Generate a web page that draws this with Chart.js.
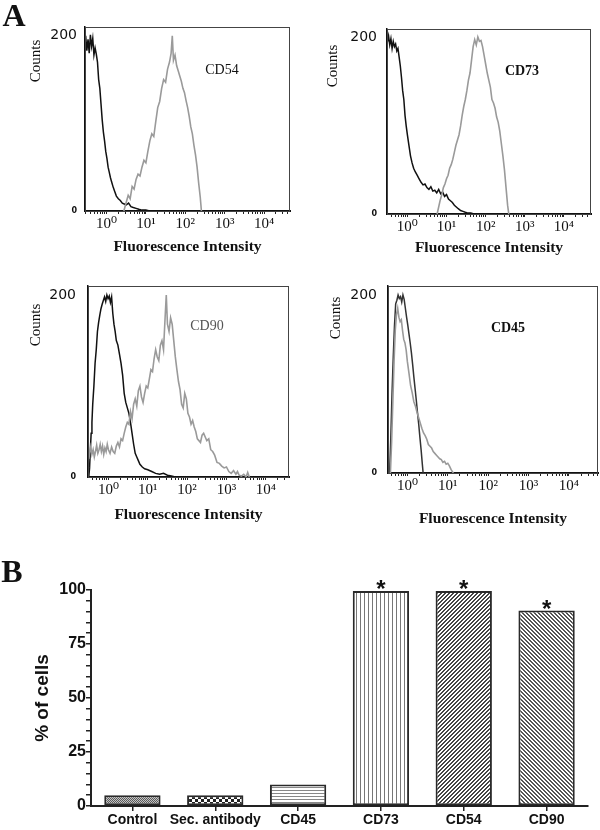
<!DOCTYPE html>
<html>
<head>
<meta charset="utf-8">
<script src="https://cdn.jsdelivr.net/npm/chart.js@4.4.0/dist/chart.umd.min.js"></script>
<style>
  body { margin: 0; background: #fff; width: 600px; height: 830px; position: relative; overflow: hidden; }
  canvas { position: absolute; }
  .lbl { position: absolute; white-space: nowrap; line-height: 1; color: #111; transform: translate(-50%, -50%); }
  .rot { transform: translate(-50%, -50%) rotate(-90deg); }
  .serif { font-family: 'Liberation Serif', 'DejaVu Serif', serif; }
</style>
</head>
<body>
<canvas id="h1" width="300" height="260" style="left:0;top:0"></canvas>
<canvas id="h2" width="300" height="260" style="left:300px;top:0"></canvas>
<canvas id="h3" width="300" height="270" style="left:0;top:260px"></canvas>
<canvas id="h4" width="300" height="270" style="left:300px;top:260px"></canvas>
<canvas id="bars" width="600" height="280" style="left:0;top:550px"></canvas>

<div class="lbl serif" style="left:14px;top:15px;font-size:32px;font-weight:bold">A</div>
<div class="lbl serif" style="left:12px;top:571px;font-size:32px;font-weight:bold">B</div>

<div class="lbl serif rot" style="left:35px;top:61px;font-size:15px">Counts</div>
<div class="lbl serif rot" style="left:332px;top:66px;font-size:15px">Counts</div>
<div class="lbl serif rot" style="left:35px;top:325px;font-size:15px">Counts</div>
<div class="lbl serif rot" style="left:335px;top:318px;font-size:15px">Counts</div>

<div class="lbl serif" style="left:222px;top:70px;font-size:14px">CD54</div>
<div class="lbl serif" style="left:522px;top:71px;font-size:14px;font-weight:bold">CD73</div>
<div class="lbl serif" style="left:207px;top:326px;font-size:14px;color:#555">CD90</div>
<div class="lbl serif" style="left:508px;top:328px;font-size:14px;font-weight:bold">CD45</div>

<script>
// histogram x values are in decades (log10 of fluorescence), y in counts
const cd54Control = [[-0.56,185],[-0.53,200],[-0.50,183],[-0.47,196],[-0.44,180],[-0.41,201],[-0.38,188],[-0.35,197],[-0.32,178],[-0.29,186],[-0.26,179],[-0.23,170],[-0.20,150],[-0.17,140],[-0.14,122],[-0.11,104],[-0.08,90],[-0.05,80],[-0.02,68],[0.01,60],[0.04,50],[0.07,44],[0.10,38],[0.13,33],[0.17,27],[0.21,22],[0.25,17],[0.30,14],[0.35,12],[0.40,9],[0.45,8],[0.50,7],[0.56,9],[0.62,5],[0.68,4],[0.75,3],[0.82,2],[0.90,1],[1.00,1],[1.10,0]];
const cd54Stained = [[0.44,0],[0.50,10],[0.55,18],[0.60,14],[0.65,28],[0.70,25],[0.75,36],[0.80,42],[0.85,40],[0.90,50],[0.95,58],[1.00,55],[1.05,68],[1.10,80],[1.15,88],[1.20,85],[1.25,102],[1.30,118],[1.35,125],[1.40,140],[1.45,150],[1.50,147],[1.55,162],[1.60,170],[1.64,180],[1.67,200],[1.70,172],[1.74,178],[1.78,166],[1.82,160],[1.86,154],[1.90,148],[1.94,140],[1.98,135],[2.02,126],[2.06,118],[2.10,108],[2.14,96],[2.18,88],[2.22,75],[2.26,64],[2.30,50],[2.34,32],[2.38,16],[2.41,0]];

const cd73Control = [[-0.51,195],[-0.48,202],[-0.45,192],[-0.42,199],[-0.39,188],[-0.36,196],[-0.33,190],[-0.30,193],[-0.27,185],[-0.24,188],[-0.21,178],[-0.18,168],[-0.15,155],[-0.12,140],[-0.09,130],[-0.06,112],[-0.03,100],[0.00,90],[0.04,78],[0.08,66],[0.12,58],[0.16,52],[0.20,48],[0.25,44],[0.30,40],[0.35,36],[0.40,33],[0.45,34],[0.50,30],[0.55,28],[0.60,31],[0.65,26],[0.70,27],[0.75,24],[0.80,28],[0.85,23],[0.90,25],[0.95,20],[1.00,22],[1.05,17],[1.10,15],[1.15,13],[1.20,10],[1.25,8],[1.30,6],[1.36,4],[1.42,3],[1.48,2],[1.55,1],[1.62,1],[1.70,0]];
const cd73Stained = [[0.76,0],[0.80,8],[0.84,16],[0.88,22],[0.92,30],[0.96,34],[1.00,40],[1.04,44],[1.08,52],[1.12,56],[1.16,62],[1.20,70],[1.24,78],[1.28,84],[1.32,90],[1.36,100],[1.40,112],[1.44,122],[1.48,130],[1.52,140],[1.56,152],[1.60,160],[1.64,175],[1.68,190],[1.72,198],[1.76,192],[1.80,201],[1.84,196],[1.88,197],[1.92,190],[1.96,180],[2.00,170],[2.04,160],[2.08,152],[2.12,144],[2.16,130],[2.20,126],[2.24,120],[2.28,110],[2.32,104],[2.36,94],[2.40,80],[2.44,66],[2.48,50],[2.52,30],[2.56,10],[2.59,0]];

const cd90Control = [[-0.50,0],[-0.48,10],[-0.46,30],[-0.44,48],[-0.42,60],[-0.40,80],[-0.37,100],[-0.34,125],[-0.31,140],[-0.28,160],[-0.25,170],[-0.22,178],[-0.19,185],[-0.16,190],[-0.13,194],[-0.10,198],[-0.07,193],[-0.04,200],[-0.01,196],[0.02,199],[0.05,192],[0.08,198],[0.11,180],[0.14,168],[0.17,160],[0.20,150],[0.24,145],[0.28,135],[0.32,125],[0.36,112],[0.40,92],[0.44,82],[0.48,76],[0.52,70],[0.56,60],[0.60,48],[0.64,36],[0.68,26],[0.72,22],[0.76,18],[0.80,14],[0.86,11],[0.92,9],[1.00,8],[1.10,6],[1.20,4],[1.30,3],[1.40,4],[1.50,2],[1.60,1],[1.70,0]];
const cd90Stained = [[-0.50,20],[-0.45,33],[-0.42,25],[-0.39,30],[-0.36,22],[-0.33,28],[-0.30,35],[-0.27,26],[-0.24,30],[-0.21,36],[-0.18,28],[-0.15,34],[-0.12,25],[-0.09,32],[-0.06,28],[-0.03,36],[0.00,30],[0.04,26],[0.08,33],[0.12,28],[0.16,26],[0.20,34],[0.24,38],[0.28,33],[0.32,42],[0.36,40],[0.40,48],[0.44,55],[0.48,60],[0.52,58],[0.56,72],[0.60,64],[0.64,80],[0.68,86],[0.72,78],[0.76,95],[0.80,100],[0.84,88],[0.88,82],[0.92,92],[0.96,100],[1.00,98],[1.04,108],[1.08,118],[1.12,116],[1.16,130],[1.20,140],[1.24,132],[1.28,128],[1.32,145],[1.36,150],[1.40,140],[1.44,175],[1.47,200],[1.50,168],[1.54,160],[1.58,175],[1.62,168],[1.66,150],[1.70,132],[1.74,118],[1.78,105],[1.82,96],[1.86,80],[1.90,76],[1.94,92],[1.98,86],[2.02,70],[2.06,66],[2.10,58],[2.14,62],[2.18,55],[2.22,50],[2.26,42],[2.30,40],[2.34,38],[2.38,46],[2.42,48],[2.46,44],[2.50,40],[2.55,42],[2.60,30],[2.65,28],[2.70,24],[2.76,16],[2.82,15],[2.88,12],[2.94,10],[3.00,11],[3.06,6],[3.12,4],[3.18,7],[3.24,3],[3.28,6],[3.32,2],[3.38,1],[3.44,3],[3.50,0],[3.54,5],[3.58,0]];

const cd45Control = [[-0.44,0],[-0.41,40],[-0.38,90],[-0.35,130],[-0.32,165],[-0.29,190],[-0.26,194],[-0.23,200],[-0.20,196],[-0.17,198],[-0.14,192],[-0.11,200],[-0.08,195],[-0.05,185],[-0.02,175],[0.01,166],[0.04,156],[0.07,146],[0.10,135],[0.13,122],[0.16,108],[0.19,95],[0.22,82],[0.25,68],[0.28,55],[0.31,40],[0.34,26],[0.37,10],[0.39,0]];
const cd45Stained = [[-0.42,0],[-0.39,35],[-0.36,80],[-0.33,125],[-0.30,160],[-0.27,178],[-0.24,185],[-0.21,175],[-0.18,170],[-0.15,172],[-0.12,160],[-0.09,150],[-0.06,146],[-0.03,138],[0.00,125],[0.04,112],[0.08,98],[0.12,90],[0.16,80],[0.20,75],[0.24,68],[0.28,62],[0.32,56],[0.36,50],[0.40,45],[0.44,42],[0.48,38],[0.52,32],[0.56,30],[0.60,28],[0.64,24],[0.68,22],[0.72,20],[0.76,18],[0.80,16],[0.84,15],[0.88,12],[0.92,13],[0.96,10],[1.00,11],[1.04,8],[1.08,4],[1.12,1],[1.14,0]];

const decadeLabels = ['10⁰', '10¹', '10²', '10³', '10⁴'];
const countTicks = [0, 200];

// panel B
const barLabels = ['Control', 'Sec. antibody', 'CD45', 'CD73', 'CD54', 'CD90'];
const percentCells = [5, 5, 10, 99.5, 99.5, 90.5];
const significant = [false, false, false, true, true, true];
const percentTicks = [0, 25, 50, 75, 100];

const serif = "'Liberation Serif', 'DejaVu Serif', serif";
const sans = "'Liberation Sans', Arial, sans-serif";

const framePlugin = {
  id: 'frame',
  afterDraw(chart) {
    const a = chart.chartArea, ctx = chart.ctx;
    ctx.save();
    ctx.strokeStyle = '#444';
    ctx.lineWidth = 1;
    ctx.strokeRect(a.left + 0.5, a.top + 0.5, a.right - a.left - 1, a.bottom - a.top);
    ctx.restore();
  }
};

function toPoints(arr) {
  return arr.map(p => ({ x: p[0], y: p[1] }));
}

function decadeTicks(min, max) {
  const out = [];
  for (let n = -1; n <= 4; n++) {
    for (let k = 1; k <= 9; k++) {
      const v = n + Math.log10(k);
      if (v >= min && v <= max) out.push({ value: v });
    }
  }
  return out;
}

function histogram(id, control, stained, o) {
  new Chart(document.getElementById(id), {
    type: 'line',
    data: {
      datasets: [
        { data: toPoints(stained), borderColor: '#9a9a9a', borderWidth: 1.6, pointRadius: 0, tension: 0 },
        { data: toPoints(control), borderColor: o.ctrlColor || '#111', borderWidth: 1.5, pointRadius: 0, tension: 0 }
      ]
    },
    options: {
      responsive: false,
      animation: false,
      layout: { padding: { left: 0, top: o.top, right: o.right, bottom: 0 } },
      plugins: { legend: { display: false }, tooltip: { enabled: false } },
      scales: {
        x: {
          type: 'linear',
          min: o.xMin,
          max: o.xMax,
          afterFit: s => { s.height = o.xHeight; },
          afterBuildTicks: s => { s.ticks = decadeTicks(o.xMin, o.xMax); },
          grid: { display: true, drawOnChartArea: false, drawTicks: true, tickLength: 3, color: '#222', lineWidth: 1 },
          border: { display: true, color: '#111', width: 2 },
          ticks: {
            autoSkip: false,
            maxRotation: 0,
            padding: 1,
            color: '#111',
            font: { family: serif, size: 15 },
            callback: v => {
              const r = Math.round(v);
              return Math.abs(v - r) < 1e-6 && r >= 0 ? decadeLabels[r] : '';
            }
          },
          title: {
            display: true,
            text: 'Fluorescence Intensity',
            color: '#111',
            font: { family: serif, size: 15.5, weight: 'bold' },
            padding: { top: 0, bottom: o.titlePad }
          }
        },
        y: {
          min: 0,
          max: 210,
          afterFit: s => { s.width = o.yWidth; },
          afterBuildTicks: s => { s.ticks = countTicks.map(v => ({ value: v })); },
          grid: { display: false, drawTicks: false },
          border: { display: true, color: '#111', width: 1.5 },
          ticks: {
            autoSkip: false,
            padding: o.yPad,
            color: '#111',
            font: c => (c.tick && c.tick.value === 200)
              ? { family: "'DejaVu Sans', sans-serif", size: 14 }
              : { family: "'DejaVu Sans', sans-serif", size: 8, weight: 'bold' }
          }
        }
      }
    },
    plugins: [framePlugin]
  });
}

histogram('h1', cd54Control, cd54Stained, { xMin: -0.547, xMax: 4.66, top: 27, right: 10, xHeight: 49, yWidth: 85, yPad: 8, titlePad: 4 });
histogram('h2', cd73Control, cd73Stained, { xMin: -0.52, xMax: 4.69, top: 29, right: 9, xHeight: 46, yWidth: 87, yPad: 10, titlePad: 3 });
histogram('h3', cd90Control, cd90Stained, { xMin: -0.52, xMax: 4.59, top: 26, right: 11, xHeight: 53, yWidth: 88, yPad: 12, titlePad: 6 });
histogram('h4', cd45Control, cd45Stained, { xMin: -0.48, xMax: 4.72, top: 26, right: 2, xHeight: 57, yWidth: 88, yPad: 11, titlePad: 2, ctrlColor: '#333' });

function pattern(kind) {
  const sizes = { dots: 2, checker: 6, hlines: 3, vlines: 4, diagUp: 4, diagDown: 4 };
  const s = sizes[kind];
  const c = document.createElement('canvas');
  c.width = c.height = s;
  const g = c.getContext('2d');
  g.fillStyle = '#fff';
  g.fillRect(0, 0, s, s);
  if (kind === 'dots') {
    g.fillStyle = '#c4c4c4'; g.fillRect(0, 0, 2, 2);
    g.fillStyle = '#5a5a5a'; g.fillRect(0, 0, 1, 1); g.fillRect(1, 1, 1, 1);
  } else if (kind === 'checker') {
    g.fillStyle = '#222'; g.fillRect(0, 0, 3, 3); g.fillRect(3, 3, 3, 3);
  } else if (kind === 'hlines') {
    g.fillStyle = '#888'; g.fillRect(0, 0, s, 1);
  } else if (kind === 'vlines') {
    g.fillStyle = '#777'; g.fillRect(0, 0, 1, s);
  } else if (kind === 'diagUp') {
    g.fillStyle = '#444';
    for (let i = 0; i < s; i++) { g.fillRect(i, s - 1 - i, 1, 1); g.fillRect(i, (s - i) % s, 1, 1); }
  } else if (kind === 'diagDown') {
    g.fillStyle = '#555';
    for (let i = 0; i < s; i++) { g.fillRect(i, i, 1, 1); g.fillRect(i, (i + 1) % s, 1, 1); }
  }
  return g.createPattern(c, 'repeat');
}

const barFills = ['dots', 'checker', 'hlines', 'vlines', 'diagUp', 'diagDown'].map(pattern);

const starPlugin = {
  id: 'stars',
  afterDatasetsDraw(chart) {
    const ctx = chart.ctx;
    ctx.save();
    ctx.font = "bold 24px " + sans;
    ctx.textAlign = 'center';
    ctx.textBaseline = 'alphabetic';
    ctx.fillStyle = '#111';
    chart.getDatasetMeta(0).data.forEach((bar, i) => {
      if (significant[i]) ctx.fillText('*', bar.x, bar.y + 6);
    });
    ctx.restore();
  }
};

new Chart(document.getElementById('bars'), {
  type: 'bar',
  data: {
    labels: barLabels,
    datasets: [{
      data: percentCells,
      backgroundColor: barFills,
      borderColor: '#2a2a2a',
      borderWidth: 2,
      borderSkipped: false,
      categoryPercentage: 1,
      barPercentage: 0.68
    }]
  },
  options: {
    responsive: false,
    animation: false,
    layout: { padding: { left: 0, top: 40, right: 12, bottom: 0 } },
    plugins: { legend: { display: false }, tooltip: { enabled: false } },
    scales: {
      x: {
        afterFit: s => { s.height = 24; },
        grid: { display: true, drawOnChartArea: false, offset: false, drawTicks: true, tickLength: 5, color: '#222', lineWidth: 1.5 },
        border: { display: true, color: '#222', width: 2 },
        ticks: { autoSkip: false, maxRotation: 0, minRotation: 0, padding: 1, color: '#111', font: { family: sans, size: 14, weight: 'bold' } }
      },
      y: {
        min: 0,
        max: 100,
        afterFit: s => { s.width = 91; },
        afterBuildTicks: s => {
          const t = [];
          for (let v = 0; v <= 100; v += 5) t.push({ value: v });
          s.ticks = t;
        },
        grid: { display: true, drawOnChartArea: false, drawTicks: true, tickLength: 5, color: '#222', lineWidth: 1.5 },
        border: { display: true, color: '#222', width: 2 },
        ticks: {
          autoSkip: false,
          padding: 0,
          color: '#111',
          font: { family: sans, size: 16, weight: 'bold' },
          callback: v => percentTicks.includes(v) ? String(v) : ''
        },
        title: {
          display: true,
          text: '% of cells',
          color: '#111',
          font: { family: sans, size: 19, weight: 'bold' },
          padding: { top: 31, bottom: 0 }
        }
      }
    }
  },
  plugins: [starPlugin]
});
</script>
</body>
</html>
